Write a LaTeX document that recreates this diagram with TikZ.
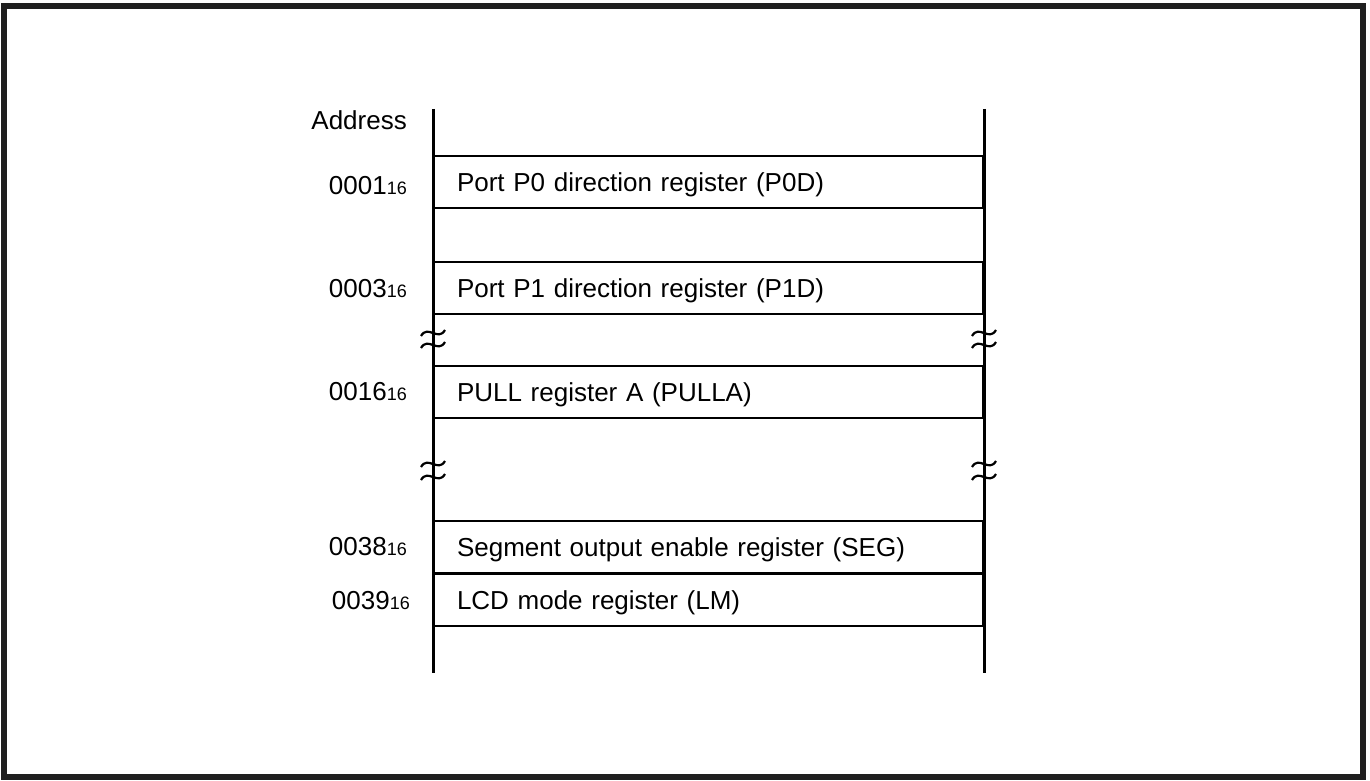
\documentclass[tikz,border=0pt]{standalone}
\usepackage{fontspec}
\setmainfont{Liberation Sans}
\usetikzlibrary{positioning}

\begin{document}
\begin{tikzpicture}[
  x=1pt, y=-1pt,
  regbox/.style={draw, line width=2.8pt, minimum width=550pt, minimum height=52pt, text width=502pt, inner xsep=24pt, text depth=0pt, align=left, anchor=north west, outer sep=0pt, font=\fontsize{26}{30}\selectfont},
  addr/.style={anchor=east, font=\fontsize{26}{30}\selectfont, inner sep=0pt},
  bus/.style={line width=3pt},
  brk/.style={line width=2.2pt}
]
  % Frame and page size
  \useasboundingbox (0,0) rectangle (1370,781);
  \draw[line width=5.5pt, black!88] (4,6) rectangle (1363,777);

  % Vertical rails
  \coordinate (ltop) at (433,109);
  \coordinate (lbot) at (433,673);
  \coordinate (rtop) at (984,109);
  \coordinate (rbot) at (984,673);
  \draw[bus] (ltop) -- (lbot);
  \draw[bus] (rtop) -- (rbot);

  % Registers
  \node[regbox] (p0d) at (433,156) {Port P0 direction register (P0D)};
  \node[regbox] (p1d) at (433,262) {Port P1 direction register (P1D)};
  \node[regbox] (pulla) at (433,366) {PULL register A (PULLA)};
  \node[regbox] (seg) at (433,521) {Segment output enable register (SEG)};
  \node[regbox] (lm) at (433,574) {LCD mode register (LM)};

  % Addresses
  \node[addr] (haddr) at (407,120) {Address};
  \node[addr] (a01) at (407,186) {0001{\fontsize{18}{20}\selectfont 16}};
  \node[addr] (a03) at (407,289) {0003{\fontsize{18}{20}\selectfont 16}};
  \node[addr] (a16) at (407,392) {0016{\fontsize{18}{20}\selectfont 16}};
  \node[addr] (a38) at (407,547) {0038{\fontsize{18}{20}\selectfont 16}};
  \node[addr] (a39) at (410,601) {0039{\fontsize{18}{20}\selectfont 16}};

  % Break marks
  \foreach \x/\y in {433/333, 433/345, 984/333, 984/345, 433/464, 433/477, 984/464, 984/477} {
    \draw[brk] (\x-12,\y+3) .. controls (\x-5,\y-9) and (\x+5,\y+9) .. (\x+12,\y-3);
  }
\end{tikzpicture}
\end{document}
